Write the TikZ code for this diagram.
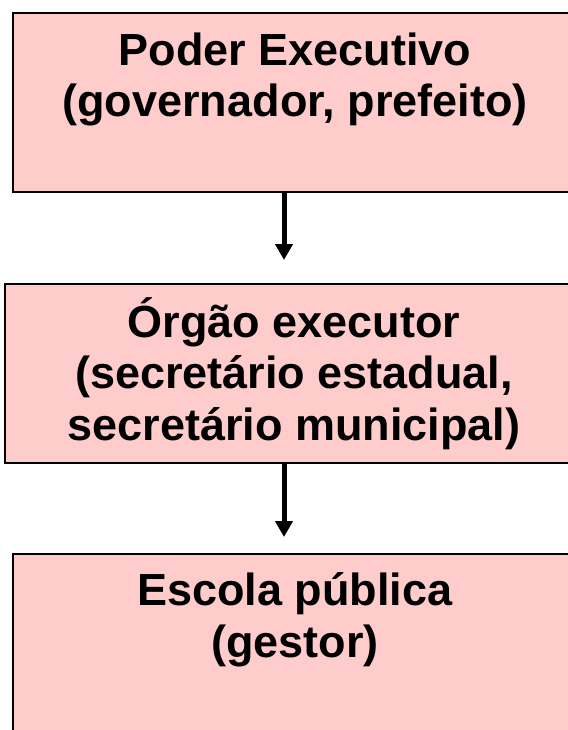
\documentclass[tikz,border=0pt]{standalone}
\usepackage{fontspec}
\setmainfont{Liberation Sans}
\usetikzlibrary{arrows.meta}
\definecolor{boxpink}{HTML}{FFCCCC}
\begin{document}
\begin{tikzpicture}[x=1pt,y=-1pt,
  box/.style={draw=black,fill=boxpink,line width=2.8pt,rectangle,inner sep=0pt},
  label/.style={anchor=base,align=center,inner sep=0pt,font=\fontsize{45}{51.5}\selectfont\bfseries},
  arr/.style={line width=5pt,-{Triangle[length=16pt,width=17pt]}}]
\useasboundingbox (0,0) rectangle (567,730);
\fill[white] (0,0) rectangle (567,730);
\node[box,minimum width=565pt,minimum height=179pt] (b1) at (295.5,102.5) {};
\node[box,minimum width=581pt,minimum height=179pt] (b2) at (295.5,373.5) {};
\node[box,minimum width=565pt,minimum height=206pt] (b3) at (295.5,657) {};
\node[label] (t1) at (295,117) {Poder Executivo\\(governador, prefeito)};
\node[label] (t2) at (294,440) {Órgão executor\\(secretário estadual,\\secretário municipal)};
\node[label] (t3) at (295,657) {Escola pública\\(gestor)};
\coordinate (tip1) at (284,260);
\coordinate (tip2) at (284,537);
\draw[arr] (b1.south -| tip1) -- (tip1);
\draw[arr] (b2.south -| tip2) -- (tip2);
\end{tikzpicture}
\end{document}
